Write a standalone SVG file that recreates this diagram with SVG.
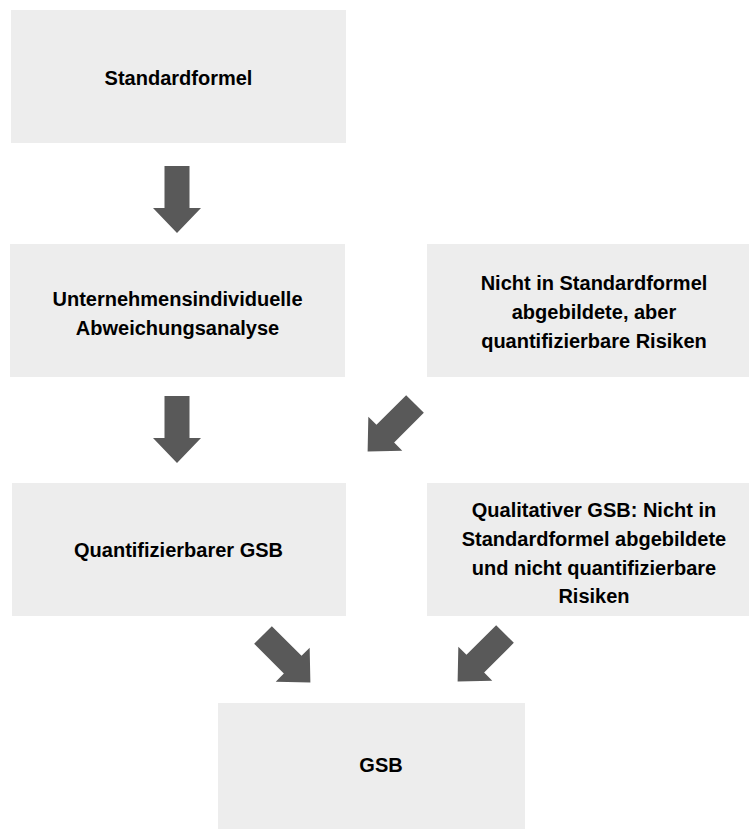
<svg xmlns="http://www.w3.org/2000/svg" width="749" height="829" viewBox="0 0 749 829">
<style>
.box{fill:#ededed}
.t{font-family:"Liberation Sans",Arial,sans-serif;font-weight:bold;font-size:20px;fill:#000;text-anchor:middle}
.arr{fill:#595959}
</style>
<defs>
<path id="a" d="M-12.5,0 H12.5 V42 H24 L0,67 L-24,42 H-12.5 Z"/>
</defs>
<rect width="749" height="829" fill="#fff"/>
<g id="standardformel">
<rect class="box" x="11" y="10" width="335" height="133"/>
<text class="t" x="178.5" y="85">Standardformel</text>
</g>
<g id="abweichungsanalyse">
<rect class="box" x="10" y="244" width="335" height="133"/>
<text class="t" x="177.5" y="306">Unternehmensindividuelle</text>
<text class="t" x="177.5" y="335">Abweichungsanalyse</text>
</g>
<g id="nicht-abgebildete-quantifizierbare">
<rect class="box" x="427" y="244" width="322" height="133"/>
<text class="t" x="594" y="290">Nicht in Standardformel</text>
<text class="t" x="594" y="319">abgebildete, aber</text>
<text class="t" x="594" y="348">quantifizierbare Risiken</text>
</g>
<g id="quantifizierbarer-gsb">
<rect class="box" x="12" y="483" width="334" height="133"/>
<text class="t" x="178.5" y="557">Quantifizierbarer GSB</text>
</g>
<g id="qualitativer-gsb">
<rect class="box" x="427" y="483" width="322" height="133"/>
<text class="t" x="594" y="517">Qualitativer GSB: Nicht in</text>
<text class="t" x="594" y="546">Standardformel abgebildete</text>
<text class="t" x="594" y="575">und nicht quantifizierbare</text>
<text class="t" x="594" y="603">Risiken</text>
</g>
<g id="gsb">
<rect class="box" x="218" y="703" width="307" height="126"/>
<text class="t" x="381" y="772">GSB</text>
</g>
<g id="connectors">
<use href="#a" class="arr" transform="translate(177,166)"/>
<use href="#a" class="arr" transform="translate(177,396)"/>
<use href="#a" class="arr" transform="translate(415,404) rotate(45)"/>
<use href="#a" class="arr" transform="translate(263,635) rotate(-45)"/>
<use href="#a" class="arr" transform="translate(505,634) rotate(45)"/>
</g>
</svg>
